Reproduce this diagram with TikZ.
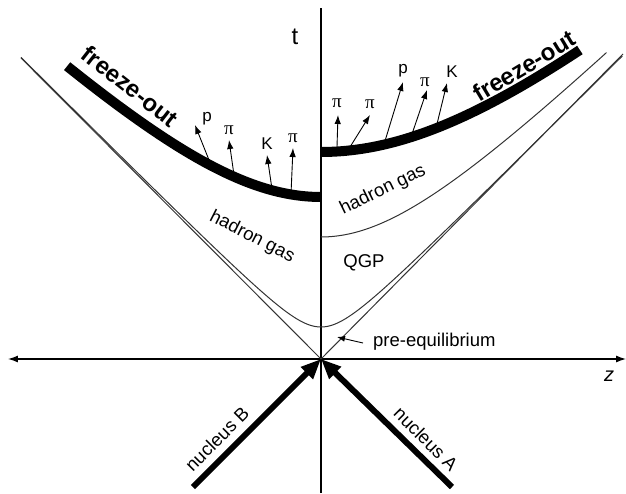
\documentclass[tikz,border=0pt]{standalone}
\usepackage{fontspec}
\setmainfont{Liberation Sans}
\newfontfamily\pifont{Liberation Serif}
\usetikzlibrary{arrows.meta}
\newcommand{\ppi}{{\pifont π}}
\begin{document}
\begin{tikzpicture}[x=1pt,y=1pt,
  thinline/.style={line width=1pt, draw=black!80},
  axis/.style={line width=1.2pt, draw=black},
  freeze/.style={line width=10pt, line cap=butt},
  particle/.style={line width=0.9pt, -{Latex[length=9pt,width=6.5pt]}},
  nucleus/.style={line width=6pt, -{Triangle[length=20pt,width=16pt]}},
  lbl/.style={font=\fontsize{18.5}{20}\selectfont, inner sep=0pt},
  plbl/.style={font=\fontsize{17}{19}\selectfont, inner sep=0pt},
  pilbl/.style={font=\fontsize{19}{21}\selectfont, inner sep=0pt},
  biglbl/.style={font=\fontsize{24}{26}\selectfont\bfseries, inner sep=0pt}]
\useasboundingbox (-321,-134) rectangle (305,359);
\coordinate (O) at (0,0);
% axes
\coordinate (xl) at (-313,0);
\coordinate (xr) at (305,0);
\coordinate (yb) at (0,-134);
\coordinate (yt) at (0,351);
\draw[axis,{Latex[length=10pt,width=7pt]}-{Latex[length=10pt,width=7pt]}] (xl) -- (xr);
\draw[axis] (yb) -- (yt);
\node[lbl,font=\fontsize{24}{26}\selectfont] (tlab) at (-26,322) {t};
\node[lbl,font=\fontsize{20}{22}\selectfont\itshape] (zlab) at (288,-17) {z};
% light cone
\coordinate (lcL) at (-300,301);
\coordinate (lcR) at (302,305);
\draw[thinline] (lcL) -- (O) -- (lcR);
% pre-equilibrium hyperbola
\draw[thinline] plot[domain=-2.934:2.94, samples=150, variable=\u] ({32*sinh(\u)},{32*cosh(\u)});
% QGP / hadron gas boundary
\draw[thinline] plot[domain=0:1.573, samples=80, variable=\u] ({123.9*sinh(\u)},{122*cosh(\u)});
% particles left
\coordinate (bp1) at (-110,194); \coordinate (tp1) at (-126,234);
\coordinate (bp2) at (-87,184); \coordinate (tp2) at (-92,219);
\coordinate (bp3) at (-49,170); \coordinate (tp3) at (-54,204);
\coordinate (bp4) at (-30,165); \coordinate (tp4) at (-28,211);
\draw[particle] (bp1) -- (tp1);
\draw[particle] (bp2) -- (tp2);
\draw[particle] (bp3) -- (tp3);
\draw[particle] (bp4) -- (tp4);
\node[plbl] (lp1) at (-114,240) {p};
\node[pilbl] (lp2) at (-92,229) {\ppi};
\node[plbl] (lp3) at (-54,215) {K};
\node[pilbl] (lp4) at (-28,221) {\ppi};
% particles right
\coordinate (bq1) at (16,212); \coordinate (tq1) at (17,244);
\coordinate (bq2) at (29,212); \coordinate (tq2) at (49,244);
\coordinate (bq3) at (64,218); \coordinate (tq3) at (82,277);
\coordinate (bq4) at (91,225); \coordinate (tq4) at (106,269);
\coordinate (bq5) at (116,235); \coordinate (tq5) at (126,276);
\draw[particle] (bq1) -- (tq1);
\draw[particle] (bq2) -- (tq2);
\draw[particle] (bq3) -- (tq3);
\draw[particle] (bq4) -- (tq4);
\draw[particle] (bq5) -- (tq5);
\node[pilbl] (lq1) at (16,256) {\ppi};
\node[pilbl] (lq2) at (49,255) {\ppi};
\node[plbl] (lq3) at (82,288) {p};
\node[pilbl] (lq4) at (104,277) {\ppi};
\node[plbl] (lq5) at (131,287) {K};
% freeze-out curves
\draw[freeze] plot[domain=-1.198:0, samples=80, variable=\u] ({168.6*sinh(\u)},{162*cosh(\u)});
\draw[freeze] plot[domain=0:0.956, samples=80, variable=\u] ({233.6*sinh(\u)},{207*cosh(\u)});
\node[biglbl,rotate=-38] (fol) at (-191,273) {freeze-out};
\node[biglbl,rotate=31] (for) at (203,293) {freeze-out};
% region labels
\node[lbl,rotate=-27] (hgl) at (-69,122) {hadron gas};
\node[lbl,rotate=26] (hgr) at (62,169) {hadron gas};
\node[lbl] (qgp) at (43,96) {QGP};
\node[lbl,anchor=west] (pre) at (52,17) {pre-equilibrium};
\coordinate (peTip) at (16,22);
\draw[line width=0.9pt,-{Latex[length=8pt,width=6pt]}] ([xshift=-10pt,yshift=-1pt]pre.west) -- (peTip);
% nuclei
\coordinate (nB) at (-128,-128);
\coordinate (nA) at (131,-128);
\draw[nucleus] (nB) -- (O);
\draw[nucleus] (nA) -- (O);
\node[lbl,rotate=45] (labB) at (-104,-80) {nucleus B};
\node[lbl,rotate=-45] (labA) at (105,-80) {nucleus A};
\end{tikzpicture}
\end{document}
